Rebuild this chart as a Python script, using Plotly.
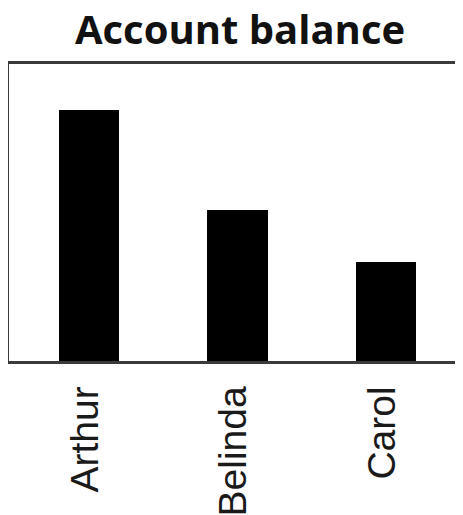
import plotly.graph_objects as go

names = ["Arthur", "Belinda", "Carol"]
balance = [1.0, 0.6, 0.395]

# page body adds an 8px margin, so the figure is 8px smaller and shifted
W, H = 455, 507

fig = go.Figure(
    go.Bar(
        x=names,
        y=balance,
        width=0.41,
        marker=dict(color="#000000", line=dict(width=0)),
        showlegend=False,
    )
)

fig.update_layout(
    width=W,
    height=H,
    margin=dict(l=1, r=0, t=56, b=154, pad=0, autoexpand=False),
    paper_bgcolor="white",
    plot_bgcolor="white",
    title=dict(
        text="<b>Account balance</b>",
        font=dict(family="Open Sans", size=40, color="#111111"),
        x=(232 - 1) / (W - 1),
        xref="paper",
        xanchor="center",
        y=1 - 22 / H,
        yref="container",
        yanchor="middle",
    ),
    bargap=0,
)

fig.update_xaxes(
    type="category",
    range=[-0.539, 2.519],
    automargin=False,
    showline=True,
    mirror=True,
    linecolor="#3a3a3a",
    linewidth=2.5,
    showgrid=False,
    zeroline=False,
    ticks="",
    tickangle=-90,
    ticklabelstandoff=7,
    ticklabelshift=-4,
    tickfont=dict(family="Liberation Sans, Arial", size=39, color="#1a1a1a"),
)
fig.update_yaxes(
    range=[0, 1.183],
    automargin=False,
    showline=True,
    mirror=False,
    linecolor="#3a3a3a",
    linewidth=2.5,
    showgrid=False,
    zeroline=False,
    showticklabels=False,
    ticks="",
)

fig.write_html("out.html", config={"displayModeBar": False})
